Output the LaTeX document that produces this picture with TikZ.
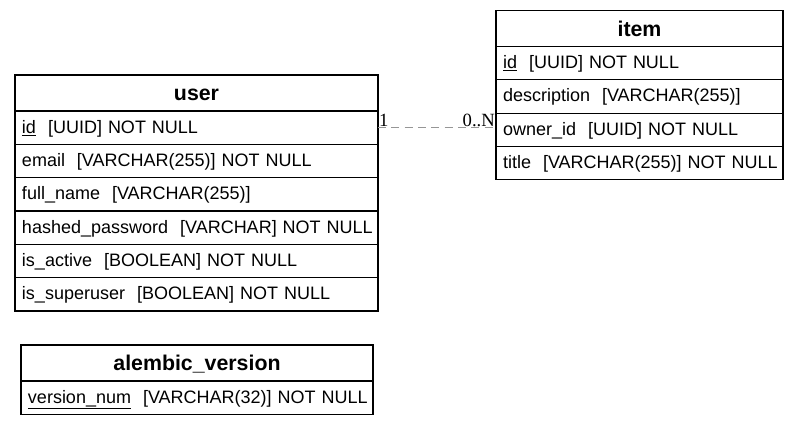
\documentclass[tikz,border=0pt]{standalone}
\usepackage{fontspec}
\setmainfont{Liberation Sans}
\newfontfamily\cardfont{Liberation Serif}
\usepackage{tikz}
\definecolor{linkgray}{RGB}{150, 150, 150}
\tikzset{
    cell/.style={draw, rectangle, line width=0.8pt, outer sep=0pt, inner ysep=0pt, anchor=north west},
    head/.style={cell, inner xsep=5.25pt, minimum width=#1, minimum height=27pt, font=\bfseries\fontsize{16}{19}\selectfont, text height=11.7pt, text depth=0pt},
    field/.style={cell, inner xsep=0pt, text width=#1, align=left, minimum height=25pt, font=\fontsize{13.5}{16}\selectfont, text height=10.5pt, text depth=2.5pt,
                  execute at begin node={\hspace*{5.25pt}}},
    link/.style={linkgray, line width=0.75pt, dash pattern=on 6pt off 4pt},
    card/.style={text=black, inner sep=0.5pt, font=\cardfont\fontsize{14}{16}\selectfont}
}

\begin{document}
\begin{tikzpicture}[x=0.75pt, y=-0.75pt]
            % Frame to ensure alignment:
            \useasboundingbox (0, 0) rectangle (799, 425);
            % user
            \node[head=272.25pt]    (user)        at ( 15.0,  75.00) {user};
            \node[field=272.25pt]   (user-id)     at ( 15.0, 111.00) {\underline{id}~~[UUID] NOT NULL};
            \node[field=272.25pt]   (user-email)  at ( 15.0, 144.33) {email~~[VARCHAR(255)] NOT NULL};
            \node[field=272.25pt]   (user-name)   at ( 15.0, 177.67) {full\_name~~[VARCHAR(255)]};
            \node[field=272.25pt]   (user-pwd)    at ( 15.0, 211.00) {hashed\_password~~[VARCHAR] NOT NULL};
            \node[field=272.25pt]   (user-active) at ( 15.0, 244.33) {is\_active~~[BOOLEAN] NOT NULL};
            \node[field=272.25pt]   (user-super)  at ( 15.0, 277.67) {is\_superuser~~[BOOLEAN] NOT NULL};
            % item
            \node[head=215.25pt]    (item)        at (496.0,  10.50) {item};
            \node[field=215.25pt]   (item-id)     at (496.0,  46.50) {\underline{id}~~[UUID] NOT NULL};
            \node[field=215.25pt]   (item-desc)   at (496.0,  79.83) {description~~[VARCHAR(255)]};
            \node[field=215.25pt]   (item-owner)  at (496.0, 113.17) {owner\_id~~[UUID] NOT NULL};
            \node[field=215.25pt]   (item-title)  at (496.0, 146.50) {title~~[VARCHAR(255)] NOT NULL};
            % alembic_version
            \node[head=264pt]       (alembic)     at ( 21.0, 345.00) {alembic\_version};
            \node[field=264pt]      (alembic-num) at ( 21.0, 381.00) {\underline{version\_num}~~[VARCHAR(32)] NOT NULL};
            % owner relation
            \draw[link] (user-id.east) -- (user-id.east -| item-owner.west)
                 node[card, pos=0, anchor=south west] {1}
                 node[card, pos=1, anchor=south east] {0..N};
        \end{tikzpicture}
\end{document}
